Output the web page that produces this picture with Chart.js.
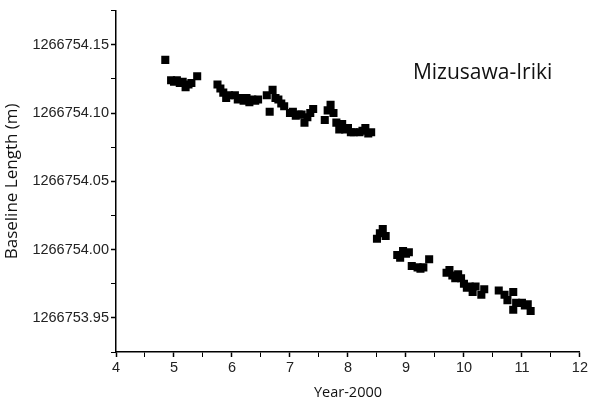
<!DOCTYPE html>
<html>
<head>
<meta charset="utf-8">
<script src="https://cdn.jsdelivr.net/npm/chart.js@4.4.0/dist/chart.umd.min.js"></script>
<style>
  html, body { margin: 0; padding: 0; background: #fff; }
  #wrap { width: 590px; height: 407px; }
</style>
</head>
<body>
<div id="wrap"><canvas id="myChart" width="590" height="407"></canvas></div>
<script>
// years since 2000
var years = [
  4.85, 4.95, 5.0, 5.05, 5.1, 5.15, 5.2, 5.25, 5.3, 5.4,
  5.75, 5.8, 5.85, 5.9, 5.95, 6.05, 6.1, 6.15, 6.2, 6.25, 6.3, 6.35, 6.4, 6.45,
  6.6, 6.65, 6.7, 6.75, 6.8, 6.85, 6.9, 7.0, 7.05, 7.1, 7.15, 7.2, 7.25, 7.3, 7.35, 7.4,
  7.6, 7.65, 7.7, 7.75, 7.8, 7.85, 7.9, 7.95, 8.0, 8.05, 8.1, 8.2, 8.25, 8.3, 8.35, 8.4,
  8.5, 8.55, 8.6, 8.65,
  8.85, 8.9, 8.95, 9.0, 9.05, 9.1, 9.2, 9.25, 9.3, 9.4,
  9.7, 9.75, 9.8, 9.85, 9.9, 9.95, 10.0, 10.05, 10.1, 10.15, 10.2, 10.3, 10.35,
  10.6, 10.7, 10.75, 10.85, 10.85, 10.9, 11.0, 11.05, 11.1, 11.15
];
// baseline length (m)
var lengths = [
  1266754.139, 1266754.124, 1266754.123, 1266754.124, 1266754.122, 1266754.123, 1266754.119, 1266754.121, 1266754.122, 1266754.127,
  1266754.121, 1266754.118, 1266754.115, 1266754.111, 1266754.113, 1266754.113, 1266754.110, 1266754.111, 1266754.109, 1266754.111, 1266754.108, 1266754.110, 1266754.109, 1266754.110,
  1266754.113, 1266754.101, 1266754.117, 1266754.111, 1266754.110, 1266754.107, 1266754.105, 1266754.100, 1266754.101, 1266754.098, 1266754.099, 1266754.099, 1266754.093, 1266754.097, 1266754.100, 1266754.103,
  1266754.095, 1266754.102, 1266754.106, 1266754.100, 1266754.093, 1266754.088, 1266754.092, 1266754.088, 1266754.089, 1266754.086, 1266754.086, 1266754.086, 1266754.087, 1266754.089, 1266754.085, 1266754.086,
  1266754.008, 1266754.012, 1266754.015, 1266754.010,
  1266753.996, 1266753.994, 1266753.999, 1266753.997, 1266753.998, 1266753.988, 1266753.987, 1266753.986, 1266753.987, 1266753.993,
  1266753.983, 1266753.985, 1266753.981, 1266753.979, 1266753.982, 1266753.979, 1266753.975, 1266753.972, 1266753.973, 1266753.969, 1266753.973, 1266753.967, 1266753.971,
  1266753.970, 1266753.967, 1266753.963, 1266753.969, 1266753.956, 1266753.961, 1266753.961, 1266753.959, 1266753.960, 1266753.955
];
var siteName = 'Mizusawa-Iriki';

var points = [];
for (var i = 0; i < years.length; i++) {
  points.push({ x: years[i], y: lengths[i] });
}

var labelPlugin = {
  id: 'siteLabel',
  afterDatasetsDraw: function(chart) {
    var ctx = chart.ctx;
    var xs = chart.scales.x, ys = chart.scales.y;
    ctx.save();
    ctx.font = '21px "Open Sans"';
    ctx.fillStyle = '#111';
    ctx.textAlign = 'left';
    ctx.textBaseline = 'middle';
    ctx.fillText(siteName, xs.getPixelForValue(9.12), ys.getPixelForValue(1266754.1295));
    ctx.restore();
  }
};

var ctx = document.getElementById('myChart').getContext('2d');
var chart = new Chart(ctx, {
  type: 'scatter',
  data: {
    datasets: [{
      data: points,
      pointStyle: 'rect',
      pointRadius: 5.7,
      pointHoverRadius: 5.7,
      backgroundColor: '#000',
      borderColor: '#000',
      borderWidth: 0
    }]
  },
  options: {
    responsive: false,
    animation: false,
    layout: { padding: { top: 9, right: 7, left: 0, bottom: 0 } },
    plugins: { legend: { display: false }, tooltip: { enabled: false } },
    scales: {
      x: {
        type: 'linear',
        min: 4,
        max: 12,
        afterFit: function(s) { s.height = 55; },
        ticks: {
          stepSize: 0.5,
          autoSkip: false,
          maxRotation: 0,
          color: '#222',
          font: { family: 'Liberation Sans', size: 14.5 },
          padding: 2,
          callback: function(v) { return Number.isInteger(v) ? String(v) : ''; }
        },
        grid: {
          drawOnChartArea: false,
          drawTicks: true,
          tickLength: 5,
          tickColor: '#000',
          tickWidth: function(c) { return Number.isInteger(c.tick.value) ? 1.5 : 1; }
        },
        border: { display: true, color: '#000', width: 1.5 },
        title: {
          display: true,
          text: 'Year-2000',
          color: '#111',
          font: { family: 'Open Sans', size: 14.5 },
          padding: { top: 8, bottom: 5 }
        }
      },
      y: {
        type: 'linear',
        min: 1266753.925,
        max: 1266754.175,
        afterFit: function(s) { s.width = 116; },
        ticks: {
          stepSize: 0.025,
          autoSkip: false,
          color: '#222',
          font: { family: 'Liberation Sans', size: 14.5 },
          padding: 2,
          callback: function(v) {
            return Math.round(v * 1000) % 50 === 0 ? v.toFixed(2) : '';
          }
        },
        grid: {
          drawOnChartArea: false,
          drawTicks: true,
          tickLength: 5,
          tickColor: '#000',
          tickWidth: function(c) { return Math.round(c.tick.value * 1000) % 50 === 0 ? 1.5 : 1; }
        },
        border: { display: true, color: '#000', width: 1.5 },
        title: {
          display: true,
          text: 'Baseline Length (m)',
          color: '#111',
          font: { family: 'Open Sans', size: 17 },
          padding: { top: 2, bottom: 4 }
        }
      }
    }
  },
  plugins: [labelPlugin]
});
</script>
</body>
</html>
